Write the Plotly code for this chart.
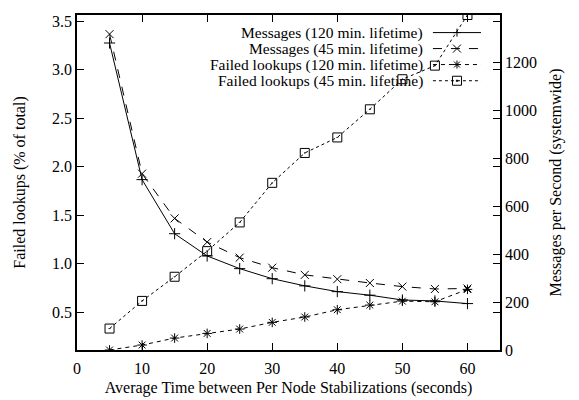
import plotly.graph_objects as go

x_secs = [5, 10, 15, 20, 25, 30, 35, 40, 45, 50, 55, 60]
msgs_120 = [1283, 712, 486, 393, 340, 298, 268, 244, 229, 209, 205, 194]
msgs_45 = [1320, 737, 550, 451, 386, 344, 314, 296, 280, 265, 255, 257]
failed_120 = [0.109, 0.16, 0.232, 0.28, 0.325, 0.394, 0.449, 0.524, 0.572, 0.613, 0.606, 0.734]
failed_45 = [0.33, 0.615, 0.864, 1.128, 1.424, 1.832, 2.14, 2.30, 2.59, 2.90, 3.04, 3.562]
series_names = ["Messages (120 min. lifetime)", "Messages (45 min. lifetime)",
                "Failed lookups (120 min. lifetime)", "Failed lookups (45 min. lifetime)"]

FONT = "Liberation Serif, Times New Roman, Times, serif"
FS = 16
FS_LEG = 15.5
W, H = 579, 400
OFF = 8  # page body margin offset
# plot-area edges in page pixels
P_L, P_R, P_T, P_B = 77.3, 500.0, 14.7, 350.0
ML, MR = P_L - OFF, W - (P_R - OFF)
MT, MB = P_T - OFF, H - (P_B - OFF)

dashes = ["solid", "dash", "4px,4px", "dot"]
symbols = ["cross-thin", "x-thin", "asterisk-open", "square-open-dot"]
sizes = [8, 8, 8, 9]

fig = go.Figure()
data_sets = [(msgs_120, "y2"), (msgs_45, "y2"), (failed_120, "y"), (failed_45, "y")]
for (vals, ax), name, dsh, sym, sz in zip(data_sets, series_names, dashes, symbols, sizes):
    fig.add_trace(go.Scatter(x=x_secs, y=vals, yaxis=ax, mode="lines+markers", name=name,
                             showlegend=False,
                             line=dict(color="black", width=1, dash=dsh),
                             marker=dict(symbol=sym, size=sz, color="black",
                                         line=dict(color="black", width=1))))

# manual gnuplot-style legend (text right-aligned, sample to the right)
def px(xp):
    return (xp - P_L) / (P_R - P_L)
def py(yp):
    return (P_B - yp) / (P_B - P_T)

rows = [32.3, 48.3, 64.3, 80.5]
text_right = 425
line_x0, line_x1, mark_x = 433, 481, 457
annotations = []
shapes = []
for i, (name, dsh) in enumerate(zip(series_names, dashes)):
    yr = py(rows[i])
    annotations.append(dict(x=px(text_right), y=yr, xref="paper", yref="paper",
                            text=name, showarrow=False, xanchor="right", yanchor="middle",
                            font=dict(family=FONT, size=FS_LEG, color="black")))
    shapes.append(dict(type="line", xref="paper", yref="paper", x0=px(line_x0), x1=px(line_x1),
                       y0=yr, y1=yr, line=dict(color="black", width=1, dash=dsh)))
    common = dict(xref="paper", yref="paper", xsizemode="pixel", ysizemode="pixel",
                  xanchor=px(mark_x), yanchor=yr, line=dict(color="black", width=1))
    r = 4
    if i == 0:
        shapes.append(dict(type="line", x0=-r, x1=r, y0=0, y1=0, **common))
        shapes.append(dict(type="line", x0=0, x1=0, y0=-r, y1=r, **common))
    elif i == 1:
        shapes.append(dict(type="line", x0=-r, x1=r, y0=-r, y1=r, **common))
        shapes.append(dict(type="line", x0=-r, x1=r, y0=r, y1=-r, **common))
    elif i == 2:
        shapes.append(dict(type="line", x0=-r, x1=r, y0=0, y1=0, **common))
        shapes.append(dict(type="line", x0=0, x1=0, y0=-r, y1=r, **common))
        shapes.append(dict(type="line", x0=-3, x1=3, y0=-3, y1=3, **common))
        shapes.append(dict(type="line", x0=-3, x1=3, y0=3, y1=-3, **common))
    else:
        shapes.append(dict(type="rect", x0=-4.5, x1=4.5, y0=-4.5, y1=4.5, **common))
        shapes.append(dict(type="rect", x0=-0.6, x1=0.6, y0=-0.6, y1=0.6,
                           fillcolor="black", **common))

axis_common = dict(showgrid=False, zeroline=False, linecolor="black", linewidth=1.5,
                   ticks="inside", ticklen=7, tickcolor="black", tickwidth=1,
                   tickfont=dict(family=FONT, size=FS, color="black"))

fig.update_layout(
    width=W, height=H,
    margin=dict(l=ML, r=MR, t=MT, b=MB, autoexpand=False),
    paper_bgcolor="white", plot_bgcolor="white",
    font=dict(family=FONT, size=FS, color="black"),
    showlegend=False,
    annotations=annotations,
    shapes=shapes,
    xaxis=dict(range=[0, 65], dtick=10, tick0=0, mirror="ticks", automargin=False,
               ticklabelstandoff=3,
               title=dict(text="Average Time between Per Node Stabilizations (seconds)",
                          font=dict(family=FONT, size=FS), standoff=6),
               **axis_common),
    yaxis=dict(range=[0.109, 3.562], dtick=0.5, tick0=0.5, tickformat=".1f", mirror="ticks",
               automargin=False,
               title=dict(text="Failed lookups (% of total)", font=dict(family=FONT, size=FS), standoff=22),
               **axis_common),
    yaxis2=dict(range=[0, 1400], dtick=200, tick0=0, overlaying="y", side="right", automargin=False,
                title=dict(text="Messages per Second (systemwide)", font=dict(family=FONT, size=FS), standoff=14),
                **axis_common),
)

fig.write_html("out.html")
